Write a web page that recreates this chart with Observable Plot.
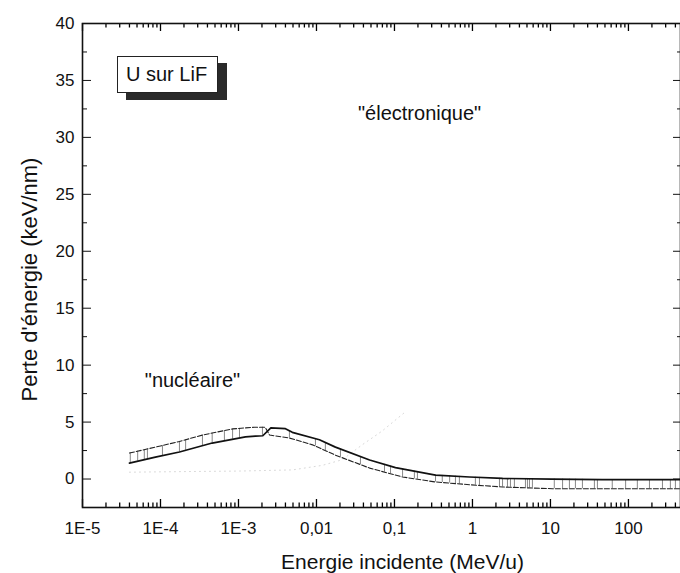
<!DOCTYPE html>
<html>
<head>
<meta charset="utf-8">
<script src="https://cdn.jsdelivr.net/npm/d3@7"></script>
<script src="https://cdn.jsdelivr.net/npm/@observablehq/plot@0.6"></script>
<style>
  html, body { margin: 0; padding: 0; background: #fff; }
  body { font-family: "Liberation Sans", Arial, sans-serif; }
  #wrap { position: relative; width: 680px; height: 573px; overflow: hidden; }
  #legend {
    position: absolute; left: 117px; top: 56px; width: 101px; height: 37px;
    box-sizing: border-box; border: 1.5px solid #222; background: #fff;
    box-shadow: 9px 7px 0 #2a2a2a;
    font-size: 20px; line-height: 34px; padding-left: 8px; color: #111;
    white-space: nowrap;
  }
</style>
</head>
<body>
<div id="wrap"><div id="chart"></div><div id="legend">U sur LiF</div></div>
<script>
// ---- tick values and labels ----
const xMajorTicks = [1e-5, 1e-4, 1e-3, 0.01, 0.1, 1, 10, 100];
const xTickLabels = ["1E-5", "1E-4", "1E-3", "0,01", "0,1", "1", "10", "100"];
const yMajorTicks = [0, 5, 10, 15, 20, 25, 30, 35, 40];
const yMinorTicks = [2.5, 7.5, 12.5, 17.5, 22.5, 27.5, 32.5, 37.5];

// ---- nuclear stopping: solid curve (keV/nm vs MeV/u) ----
const solidE = [4.0e-5, 8.6e-5, 1.75e-4, 4.6e-4, 1.23e-3, 1.65e-3, 2.05e-3, 2.6e-3, 4.0e-3, 4.9e-3, 0.0109, 0.0175, 0.048, 0.103, 0.336, 0.916, 2.43, 10.6, 46, 465];
const solidS = [1.4, 1.93, 2.37, 3.16, 3.7, 3.77, 3.8, 4.5, 4.42, 4.1, 3.45, 2.8, 1.67, 1.0, 0.35, 0.18, 0.05, 0.0, -0.05, -0.05];

// ---- nuclear stopping: dashed curve ----
const dashedE = [4.0e-5, 8.6e-5, 1.75e-4, 3.45e-4, 8.4e-4, 1.6e-3, 2.2e-3, 2.5e-3, 4.5e-3, 8.9e-3, 0.0175, 0.048, 0.127, 0.336, 0.916, 2.43, 10.6, 46, 465];
const dashedS = [2.28, 2.8, 3.3, 3.86, 4.4, 4.55, 4.55, 3.86, 3.6, 3.0, 2.1, 0.96, 0.18, -0.26, -0.5, -0.7, -0.85, -0.85, -0.85];

// ---- hatching positions between the two curves (MeV/u) ----
const hatchE = [4.1e-5, 5.1e-5, 6.2e-5, 6.8e-5, 1.06e-4, 1.75e-4, 2.1e-4, 3.45e-4, 4.6e-4, 6.6e-4, 8.4e-4, 1.03e-3, 2.03e-3, 4.5e-3, 9.7e-3, 0.013, 0.0203, 0.0366, 0.0745, 0.089, 0.127, 0.18, 0.197, 0.336, 0.41, 0.51, 0.605, 0.68, 1.09, 1.23, 2.22, 2.43, 2.81, 3.07, 3.45, 4.78, 5.07, 5.38, 5.87, 11.2, 14.3, 17.5, 20.9, 25.7, 36.6, 40, 62, 92, 130, 186, 273, 345, 400];

// ---- faint electronic stopping (visible low-energy part) ----
const elecE = [4.0e-5, 1.75e-4, 1.03e-3, 4.9e-3, 0.0119, 0.0215, 0.0385, 0.069, 0.138];
const elecS = [0.6, 0.65, 0.7, 0.8, 1.2, 1.7, 3.0, 4.2, 5.9];

// ---- annotations ----
const noteTexts = ["\"électronique\"", "\"nucléaire\""];
const noteE = [0.21, 2.57e-4];
const noteS = [32.1, 8.65];

// ---- build tables ----
const solid = solidE.map((e, i) => ({e, s: solidS[i]}));
const dashed = dashedE.map((e, i) => ({e, s: dashedS[i]}));
const elec = elecE.map((e, i) => ({e, s: elecS[i]}));
const notes = noteTexts.map((t, i) => ({t, e: noteE[i], s: noteS[i]}));

function interpLog(xs, ys, x) {
  const lx = Math.log10(x);
  for (let i = 0; i < xs.length - 1; i++) {
    const a = Math.log10(xs[i]), b = Math.log10(xs[i + 1]);
    if (lx >= a && lx <= b) return ys[i] + (ys[i + 1] - ys[i]) * (lx - a) / (b - a);
  }
  return lx < Math.log10(xs[0]) ? ys[0] : ys[ys.length - 1];
}
const hatch = hatchE.map(e => ({e, y1: interpLog(solidE, solidS, e), y2: interpLog(dashedE, dashedS, e)}));

const xMinorTicks = [];
for (const d of xMajorTicks) for (let k = 2; k <= 9; k++) if (d * k <= 465) xMinorTicks.push(d * k);

const W = 680, H = 573, mL = 82, mR = 0, mT = 23, mB = 66;
const yDomain = [-2.5, 40];
const pxPerUnit = (H - mT - mB) / (yDomain[1] - yDomain[0]);
const tickRows = [];
for (const x of xMajorTicks) {
  tickRows.push({x, y1: yDomain[0], y2: yDomain[0] + 8 / pxPerUnit});
  tickRows.push({x, y1: yDomain[1] - 8 / pxPerUnit, y2: yDomain[1]});
}
for (const x of xMinorTicks) {
  tickRows.push({x, y1: yDomain[0], y2: yDomain[0] + 4.5 / pxPerUnit});
  tickRows.push({x, y1: yDomain[1] - 4.5 / pxPerUnit, y2: yDomain[1]});
}

const blank = () => "";
const chart = Plot.plot({
  width: W, height: H,
  marginLeft: mL, marginRight: mR, marginTop: mT, marginBottom: mB,
  x: {type: "log", domain: [1e-5, 465], label: null},
  y: {domain: yDomain, label: null},
  style: {fontFamily: "'Liberation Sans', Arial, sans-serif", background: "#fff", color: "#111"},
  marks: [
    // faint electronic curve
    Plot.line(elec, {x: "e", y: "s", stroke: "#d8d8d8", strokeWidth: 1, strokeDasharray: "1,4"}),
    // hatching
    Plot.ruleX(hatch, {x: "e", y1: "y1", y2: "y2", stroke: "#555", strokeWidth: 0.7}),
    // curves
    Plot.line(dashed, {x: "e", y: "s", stroke: "#222", strokeWidth: 1.1, strokeDasharray: "5,2"}),
    Plot.line(solid, {x: "e", y: "s", stroke: "#111", strokeWidth: 1.7}),
    // inward x ticks, bottom and top
    Plot.ruleX(tickRows, {x: "x", y1: "y1", y2: "y2", stroke: "#000", strokeWidth: 1.3}),
    // frame
    Plot.frame({stroke: "#111", strokeWidth: 1.6}),
    // inward y ticks (left and right)
    Plot.axisY({anchor: "left", ticks: yMajorTicks, tickSize: 9, dx: 9, tickFormat: blank, label: null}),
    Plot.axisY({anchor: "left", ticks: yMinorTicks, tickSize: 5, dx: 5, tickFormat: blank, label: null}),
    Plot.axisY({anchor: "right", ticks: yMajorTicks, tickSize: 8, dx: -8, tickFormat: blank, label: null}),
    Plot.axisY({anchor: "right", ticks: yMinorTicks, tickSize: 4, dx: -4, tickFormat: blank, label: null}),
    // tick labels
    Plot.axisX({anchor: "bottom", ticks: xMajorTicks, tickSize: 0, tickPadding: 14, fontSize: 17,
      tickFormat: d => xTickLabels[xMajorTicks.indexOf(d)], label: null}),
    Plot.axisY({anchor: "left", ticks: yMajorTicks, tickSize: 0, tickPadding: 8, fontSize: 17, label: null}),
    // annotations
    Plot.text(notes, {x: "e", y: "s", text: "t", fontSize: 20, fill: "#111"}),
    // axis titles
    Plot.text(["Energie incidente (MeV/u)"], {text: d => d, frameAnchor: "bottom", textAnchor: "middle", dx: 21, dy: 61, lineAnchor: "bottom", fontSize: 21, fill: "#111"}),
    Plot.text(["Perte d'énergie (keV/nm)"], {text: d => d, frameAnchor: "left", textAnchor: "middle", rotate: -90, dx: -46, dy: 14, lineAnchor: "bottom", fontSize: 22, fill: "#111"})
  ]
});
document.getElementById("chart").appendChild(chart);
</script>
</body>
</html>
